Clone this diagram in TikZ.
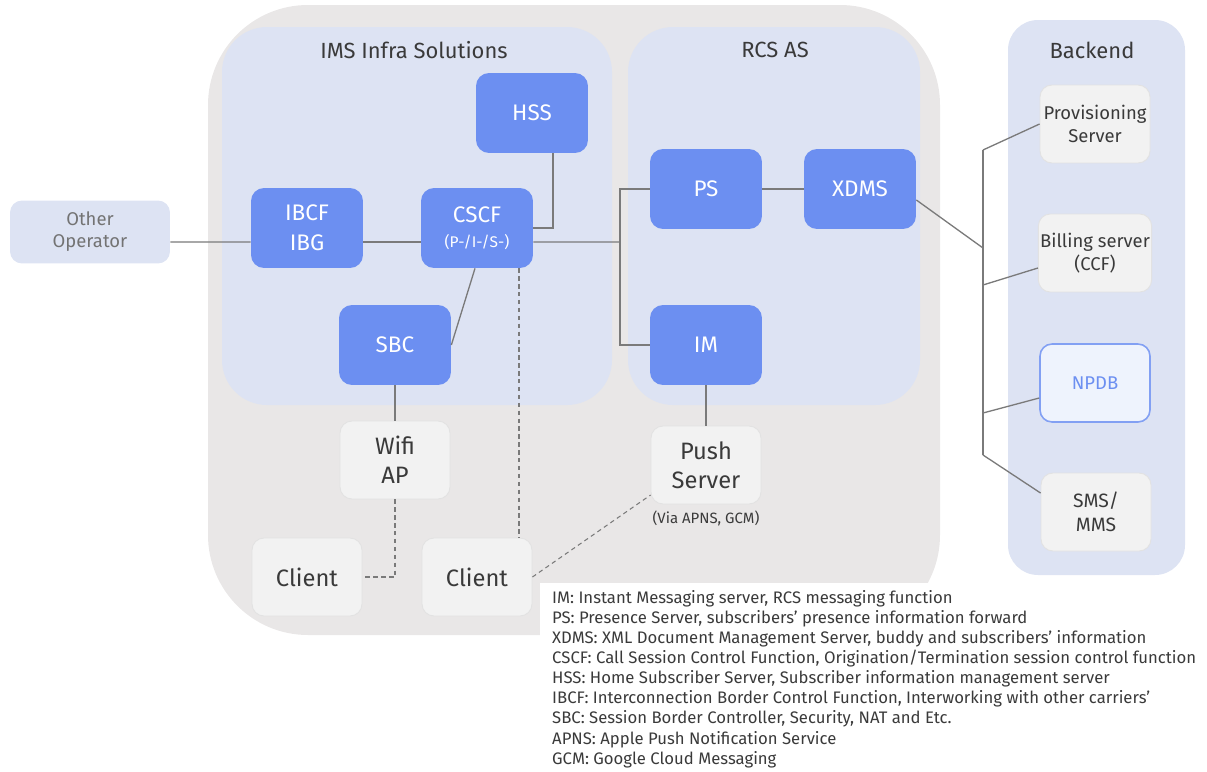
\documentclass[tikz,border=0pt]{standalone}
\usepackage{fontspec}
\setmainfont{Fira Sans}
\usepackage{tikz}

\definecolor{outergray}{HTML}{E9E7E7}
\definecolor{panelblue}{HTML}{DDE3F3}
\definecolor{boxblue}{HTML}{6C8FF1}
\definecolor{lightbox}{HTML}{F2F2F2}
\definecolor{lightedge}{HTML}{E2E2E2}
\definecolor{linegray}{HTML}{7A7A7A}
\definecolor{textgray}{HTML}{3A3A3A}
\definecolor{npdbfill}{HTML}{EEF3FD}

\begin{document}
\begin{tikzpicture}[x=0.02cm, y=-0.02cm,
  blue/.style={rectangle, rounded corners=0.26cm, fill=boxblue, text=white, minimum width=2.24cm, minimum height=1.6cm, align=center, font=\fontsize{12.8}{17}\selectfont},
  grey/.style={rectangle, rounded corners=0.24cm, fill=lightbox, draw=lightedge, line width=0.5pt, text=textgray, minimum width=2.2cm, minimum height=1.56cm, inner xsep=1pt, align=center, font=\fontsize{13.5}{16.5}\selectfont},
  back/.style={grey, font=\fontsize{10.5}{13}\selectfont},
  title/.style={text=textgray, font=\fontsize{12.5}{15}\selectfont},
  ln/.style={draw=linegray, line width=0.75pt},
  dl/.style={draw=linegray, line width=0.6pt, dash pattern=on 2.5pt off 2pt}]
            \useasboundingbox (0,0) rectangle (1207,771);
            % areas
            \fill[outergray, rounded corners=2cm] (208,5) rectangle (940,635);
            \fill[panelblue, rounded corners=0.9cm] (222,27) rectangle (612,405);
            \fill[panelblue, rounded corners=0.9cm] (628,27) rectangle (920,405);
            \fill[panelblue, rounded corners=0.6cm] (1008,20) rectangle (1185,575);
            \fill[white] (540,583) rectangle (1207,771);
            % titles
            \node[title] (imstitle) at (414,50) {IMS Infra Solutions};
            \node[title] (rcstitle) at (775,50) {RCS AS};
            \node[title] (backtitle) at (1092,50) {Backend};
            % nodes
            \node[rectangle, rounded corners=0.24cm, fill=panelblue, text=black!55, minimum width=3.2cm, minimum height=1.26cm, align=center, font=\fontsize{10.5}{12.5}\selectfont] (oth) at (90,232) {Other\\Operator};

            \node[blue] (hss) at (532,113) {HSS};
            \node[blue] (ibcf) at (307,228) {IBCF\\IBG};
            \node[blue] (cscf) at (477,228) {CSCF\\[-3pt]{\fontsize{8.8}{10}\selectfont(P-/I-/S-)}};
            \node[blue] (sbc) at (395,345) {SBC};

            \node[blue] (ps) at (706,189) {PS};
            \node[blue] (xdms) at (860,189) {XDMS};
            \node[blue] (im) at (706,345) {IM};

            \node[grey] (wifi) at (395,460) {Wifi\\AP};
            \node[grey] (push) at (706,465) {Push\\Server};
            \node[text=textgray, font=\fontsize{8.5}{10}\selectfont] (via) at (706,518) {(Via APNS, GCM)};
            \node[grey] (cl1) at (307,577) {Client};
            \node[grey] (cl2) at (477,577) {Client};

            \node[back] (prov) at (1095,124) {Provisioning\\Server};
            \node[back] (bill) at (1095,253) {Billing server\\(CCF)};
            \node[back, fill=npdbfill, draw=boxblue!85, line width=0.9pt, text=boxblue] (npdb) at (1095,383) {NPDB};
            \node[back, font=\fontsize{11}{14}\selectfont] (sms) at (1096,512) {SMS/\\MMS};

            \node[anchor=north west, align=left, text=textgray, font=\fontsize{9.5}{11.45}\selectfont] (legend) at (546,584) {IM: Instant Messaging server, RCS messaging function\\
PS: Presence Server, subscribers' presence information forward\\
XDMS: XML Document Management Server, buddy and subscribers' information\\
CSCF: Call Session Control Function, Origination/Termination session control function\\
HSS: Home Subscriber Server, Subscriber information management server\\
IBCF: Interconnection Border Control Function, Interworking with other carriers'\\
SBC: Session Border Controller, Security, NAT and Etc.\\
APNS: Apple Push Notification Service\\
GCM: Google Cloud Messaging};
            % junctions
            \coordinate (jn) at (620,242);
            \coordinate (bt) at (983,150);
            \coordinate (bx) at (983,248);
            \coordinate (bc) at (983,285);
            \coordinate (bn) at (983,413);
            \coordinate (bb) at (983,455);
            % edges
            \draw[ln] ([yshift=-0.2cm]oth.east) -- ([yshift=-0.28cm]ibcf.west);
            \draw[ln] ([yshift=-0.28cm]ibcf.east) -- ([yshift=-0.28cm]cscf.west);
            \draw[ln] ([xshift=0.42cm]hss.south) |- (cscf.east);
            \draw[ln] ([yshift=-0.28cm]cscf.east) -- (jn);
            \draw[ln] (ps.west) -| (jn);
            \draw[ln] (im.west) -| (jn);
            \draw[ln] (ps) -- (xdms);
            \draw[ln] ([xshift=-0.04cm]cscf.south) -- (sbc.east);
            \draw[ln] (sbc.south) -- (wifi.north);
            \draw[ln] (im.south) -- (push.north);

            \draw[ln] (bt) -- (bb);
            \draw[ln] ([yshift=-0.22cm]xdms.east) -- (bx);
            \draw[ln] (bt) -- (prov.west);
            \draw[ln] (bc) -- ([yshift=-0.3cm]bill.west);
            \draw[ln] (bn) -- ([yshift=-0.3cm]npdb.west);
            \draw[ln] (bb) -- ([yshift=0.38cm]sms.west);

            \draw[dl] (wifi.south) |- (cl1.east);
            \draw[dl] ([xshift=0.84cm]cscf.south) -- ([xshift=0.84cm]cl2.north);
            \draw[dl] (cl2.east) -- ([yshift=-0.6cm]push.west);
        \end{tikzpicture}
\end{document}
